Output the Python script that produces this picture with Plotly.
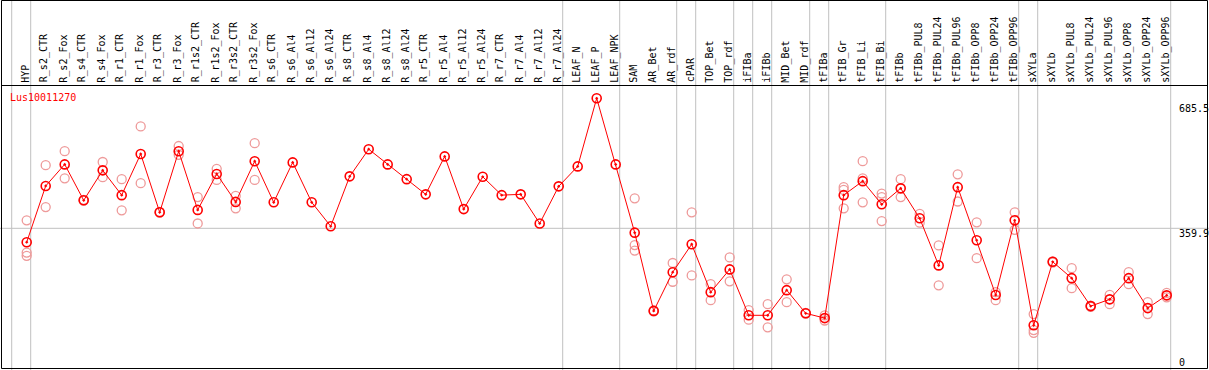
import plotly.graph_objects as go

categories = ["HYP", "R_s2_CTR", "R_s2_Fox", "R_s4_CTR", "R_s4_Fox", "R_r1_CTR", "R_r1_Fox",
              "R_r3_CTR", "R_r3_Fox", "R_r1s2_CTR", "R_r1s2_Fox", "R_r3s2_CTR", "R_r3s2_Fox",
              "R_s6_CTR", "R_s6_Al4", "R_s6_Al12", "R_s6_Al24", "R_s8_CTR", "R_s8_Al4", "R_s8_Al12",
              "R_s8_Al24", "R_r5_CTR", "R_r5_Al4", "R_r5_Al12", "R_r5_Al24", "R_r7_CTR", "R_r7_Al4",
              "R_r7_Al12", "R_r7_Al24", "LEAF_N", "LEAF_P", "LEAF_NPK", "SAM", "AR_Bet", "AR_rdf",
              "cPAR", "TOP_Bet", "TOP_rdf", "iFIBa", "iFIBb", "MID_Bet", "MID_rdf", "tFIBa",
              "tFIB_Gr", "tFIB_Li", "tFIB_Bi", "tFIBb", "tFIBb_PUL8", "tFIBb_PUL24", "tFIBb_PUL96",
              "tFIBb_OPP8", "tFIBb_OPP24", "tFIBb_OPP96", "sXYLa", "sXYLb", "sXYLb_PUL8",
              "sXYLb_PUL24", "sXYLb_PUL96", "sXYLb_OPP8", "sXYLb_OPP24", "sXYLb_OPP96"]

mean_values = [325, 466, 520, 430, 505, 443, 546, 400, 553, 406, 496, 426, 528,
               425, 525, 425, 365, 490, 558, 520, 483, 445, 540, 408, 489, 443, 445,
               372, 465, 515, 685.5, 520, 349, 153, 250, 320, 200, 257, 142, 142, 205,
               147, 135, 443, 478, 420, 460, 385, 267, 463, 330, 193, 380, 117, 276,
               235, 165, 182, 235, 160, 192]

replicates = [
    [380, 299, 291], [518, 413], [553, 485], [431, 429], [526, 488], [483, 405],
    [615, 473], [401, 399], [566, 544], [438, 372], [509, 481], [441, 410], [573, 481],
    [], [], [], [], [], [], [], [], [], [], [], [], [], [], [], [], [], [], [],
    [435, 318, 304], [154, 152], [273, 226], [400, 242], [220, 180], [287, 227],
    [155, 131], [170, 112], [232, 175], [148, 146], [142, 129],
    [463, 456, 410], [528, 485, 425], [447, 438, 378], [483, 438],
    [396, 374], [317, 217], [495, 427], [375, 285], [200, 180], [400, 356],
    [145, 105, 98], [277, 274], [260, 210], [166, 163], [193, 170], [250, 220],
    [175, 145], [198, 187],
]

group_ends = [-1, 0, 28, 31, 34, 35, 37, 38, 39, 41, 42, 45, 52, 53, 60]
tick_values = [685.5, 359.9, 0]
tick_labels = ["685.5", "359.9", "0"]
gene_id = "Lus10011270"

W, H = 1209, 370
FONT = "DejaVu Sans Mono"

xs = list(range(len(categories)))
rep_x, rep_y = [], []
for i, reps in enumerate(replicates):
    for v in reps:
        rep_x.append(i)
        rep_y.append(v)

fig = go.Figure()
fig.add_trace(go.Scatter(
    x=rep_x, y=rep_y, mode="markers",
    marker=dict(symbol="circle-open", size=9, color="#EE9A9A", line=dict(width=1.3, color="#EE9A9A")),
    hoverinfo="skip", showlegend=False,
))
fig.add_trace(go.Scatter(
    x=xs, y=mean_values, mode="lines+markers",
    line=dict(color="#FF0000", width=1),
    marker=dict(symbol="circle-open-dot", size=9, color="#FF0000", line=dict(width=1.6, color="#FF0000")),
    showlegend=False,
))

def py(p):
    return 1 - p / H

def px(p):
    return p / W

shapes = []
for g in group_ends:
    shapes.append(dict(type="line", xref="x", yref="paper", x0=g + 4 / 19, x1=g + 4 / 19,
                       y0=0, y1=1, line=dict(color="#C0C0C0", width=1), layer="below"))
shapes.append(dict(type="line", xref="paper", yref="y", x0=0, x1=1, y0=tick_values[1], y1=tick_values[1],
                   line=dict(color="#C0C0C0", width=1), layer="below"))
for (x0, y0, x1, y1) in [(1.5, 0.5, 1207.5, 0.5), (1.5, 85.5, 1207.5, 85.5),
                         (1.5, 368.5, 1207.5, 368.5), (1.5, 0.5, 1.5, 368.5),
                         (1207.5, 0.5, 1207.5, 368.5)]:
    shapes.append(dict(type="line", xref="paper", yref="paper", x0=px(x0), x1=px(x1),
                       y0=py(y0), y1=py(y1), line=dict(color="#000000", width=1)))

annotations = []
for i, c in enumerate(categories):
    annotations.append(dict(x=i - 0.08, y=py(84.5), xref="x", yref="paper", text=c, textangle=-90,
                            xanchor="center", yanchor="bottom", showarrow=False,
                            font=dict(family=FONT, size=10, color="#000000")))
tick_text_tops = [101, 226, 355]
for lab, top in zip(tick_labels, tick_text_tops):
    annotations.append(dict(x=px(1177), y=py(top), xref="paper", yref="paper", text=lab,
                            xanchor="left", yanchor="top", showarrow=False,
                            font=dict(family=FONT, size=10, color="#000000")))
annotations.append(dict(x=px(8), y=py(97), xref="paper", yref="paper", text=gene_id,
                        xanchor="left", yanchor="middle", showarrow=False,
                        font=dict(family=FONT, size=10, color="#FF0000")))

fig.update_layout(
    width=W, height=H, margin=dict(l=0, r=0, t=0, b=0),
    paper_bgcolor="white", plot_bgcolor="white",
    xaxis=dict(range=[-26.7 / 19, (W - 26.7) / 19], visible=False, fixedrange=True),
    yaxis=dict(range=[2 / 0.39926, 372 / 0.39926], visible=False, fixedrange=True),
    shapes=shapes, annotations=annotations,
)

fig.write_html("out.html", config={"displayModeBar": False},
               post_script="document.body.style.margin='0px';document.body.style.overflow='hidden';")
